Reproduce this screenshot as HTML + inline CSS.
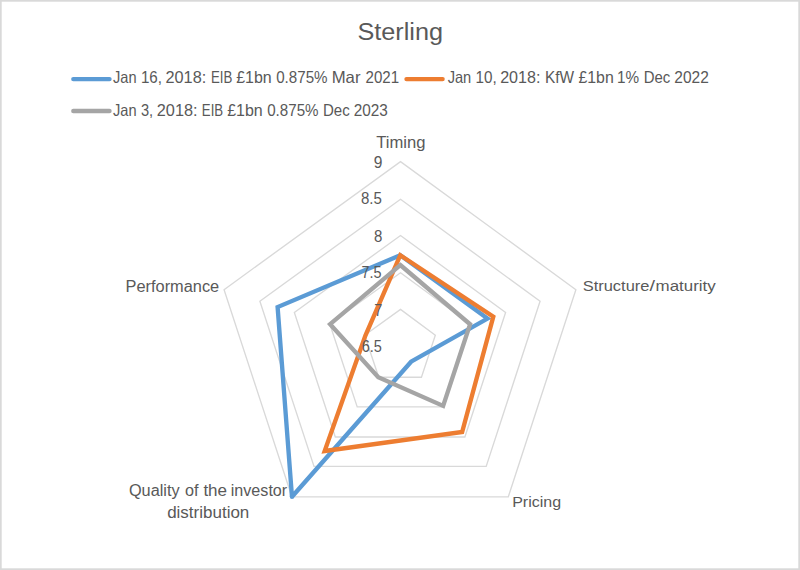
<!DOCTYPE html>
<html><head><meta charset="utf-8"><title>Sterling</title>
<style>
html,body{margin:0;padding:0;background:#fff;}
body{width:800px;height:570px;overflow:hidden;font-family:"Liberation Sans",sans-serif;}
svg{display:block;}
.soft{filter:blur(0.45px);}
.softg{filter:blur(0.7px);}
text{font-family:"Liberation Sans",sans-serif;fill:#595959;}
</style></head><body>
<svg width="800" height="570" viewBox="0 0 800 570">
<rect x="0" y="0" width="800" height="570" fill="#ffffff"/>
<rect x="0.85" y="0.85" width="798.3" height="568.3" fill="none" stroke="#D9D9D9" stroke-width="1.7"/>
<g class="softg" fill="none" stroke="#D9D9D9" stroke-width="1.35">
<polygon points="400.50,309.40 435.31,335.31 421.44,377.24 378.76,377.24 364.64,335.31"/>
<polygon points="400.50,272.75 470.17,323.99 442.98,406.89 357.22,406.89 329.78,323.99"/>
<polygon points="400.50,235.50 505.60,312.48 464.88,437.02 335.32,437.02 294.35,312.48"/>
<polygon points="400.50,199.25 540.07,301.27 486.19,466.35 314.01,466.35 259.88,301.27"/>
<polygon points="400.50,161.60 575.88,289.64 508.32,496.81 291.88,496.81 224.07,289.64"/>
</g>
<g>
<text><tspan x="357.43" y="39.70" font-size="23.50" textLength="85.62" lengthAdjust="spacingAndGlyphs">Sterling</tspan></text>
<text><tspan x="113.00" y="83.20" font-size="16.50" textLength="23.56" lengthAdjust="spacingAndGlyphs">Jan</tspan> <tspan x="140.88" y="83.20" font-size="16.50" textLength="21.05" lengthAdjust="spacingAndGlyphs">16,</tspan> <tspan x="165.50" y="83.20" font-size="16.50" textLength="40.78" lengthAdjust="spacingAndGlyphs">2018:</tspan> <tspan x="210.99" y="83.20" font-size="16.50" textLength="21.41" lengthAdjust="spacingAndGlyphs">EIB</tspan> <tspan x="236.20" y="83.20" font-size="16.50" textLength="35.57" lengthAdjust="spacingAndGlyphs">£1bn</tspan> <tspan x="276.20" y="83.20" font-size="16.50" textLength="51.40" lengthAdjust="spacingAndGlyphs">0.875%</tspan> <tspan x="331.69" y="83.20" font-size="16.50" textLength="28.80" lengthAdjust="spacingAndGlyphs">Mar</tspan> <tspan x="365.50" y="83.20" font-size="16.50" textLength="33.56" lengthAdjust="spacingAndGlyphs">2021</tspan></text>
<text><tspan x="447.65" y="83.20" font-size="16.50" textLength="23.61" lengthAdjust="spacingAndGlyphs">Jan</tspan> <tspan x="475.48" y="83.20" font-size="16.50" textLength="21.16" lengthAdjust="spacingAndGlyphs">10,</tspan> <tspan x="500.15" y="83.20" font-size="16.50" textLength="40.27" lengthAdjust="spacingAndGlyphs">2018:</tspan> <tspan x="544.97" y="83.20" font-size="16.50" textLength="29.14" lengthAdjust="spacingAndGlyphs">KfW</tspan> <tspan x="578.40" y="83.20" font-size="16.50" textLength="35.37" lengthAdjust="spacingAndGlyphs">£1bn</tspan> <tspan x="617.07" y="83.20" font-size="16.50" textLength="22.12" lengthAdjust="spacingAndGlyphs">1%</tspan> <tspan x="643.74" y="83.20" font-size="16.50" textLength="26.58" lengthAdjust="spacingAndGlyphs">Dec</tspan> <tspan x="674.30" y="83.20" font-size="16.50" textLength="34.47" lengthAdjust="spacingAndGlyphs">2022</tspan></text>
<text><tspan x="113.00" y="115.80" font-size="16.50" textLength="23.56" lengthAdjust="spacingAndGlyphs">Jan</tspan> <tspan x="140.90" y="115.80" font-size="16.50" textLength="12.22" lengthAdjust="spacingAndGlyphs">3,</tspan> <tspan x="156.80" y="115.80" font-size="16.50" textLength="40.78" lengthAdjust="spacingAndGlyphs">2018:</tspan> <tspan x="201.85" y="115.80" font-size="16.50" textLength="21.36" lengthAdjust="spacingAndGlyphs">EIB</tspan> <tspan x="227.15" y="115.80" font-size="16.50" textLength="35.62" lengthAdjust="spacingAndGlyphs">£1bn</tspan> <tspan x="267.15" y="115.80" font-size="16.50" textLength="51.40" lengthAdjust="spacingAndGlyphs">0.875%</tspan> <tspan x="322.99" y="115.80" font-size="16.50" textLength="26.74" lengthAdjust="spacingAndGlyphs">Dec</tspan> <tspan x="353.65" y="115.80" font-size="16.50" textLength="34.11" lengthAdjust="spacingAndGlyphs">2023</tspan></text>
<text><tspan x="376.30" y="147.90" font-size="16.20" textLength="49.23" lengthAdjust="spacingAndGlyphs">Timing</tspan></text>
<text><tspan x="582.70" y="291.10" font-size="15.00" textLength="66.78" lengthAdjust="spacingAndGlyphs">Structure</tspan><tspan x="649.50" y="291.10" font-size="15.00" textLength="5.50" lengthAdjust="spacingAndGlyphs">/</tspan><tspan x="655.57" y="291.10" font-size="15.00" textLength="60.16" lengthAdjust="spacingAndGlyphs">maturity</tspan></text>
<text><tspan x="512.17" y="507.40" font-size="15.50" textLength="48.97" lengthAdjust="spacingAndGlyphs">Pricing</tspan></text>
<text><tspan x="128.90" y="495.80" font-size="15.60" textLength="50.74" lengthAdjust="spacingAndGlyphs">Quality</tspan> <tspan x="184.90" y="495.80" font-size="15.60" textLength="13.51" lengthAdjust="spacingAndGlyphs">of</tspan> <tspan x="203.40" y="495.80" font-size="15.60" textLength="23.68" lengthAdjust="spacingAndGlyphs">the</tspan> <tspan x="230.77" y="495.80" font-size="15.60" textLength="56.43" lengthAdjust="spacingAndGlyphs">investor</tspan></text>
<text><tspan x="167.15" y="517.70" font-size="15.60" textLength="82.18" lengthAdjust="spacingAndGlyphs">distribution</tspan></text>
<text><tspan x="125.55" y="291.50" font-size="15.60" textLength="93.65" lengthAdjust="spacingAndGlyphs">Performance</tspan></text>
</g>
<g class="soft" fill="none" stroke-width="4.35" stroke-linejoin="miter" stroke-miterlimit="2.2" stroke-linecap="round">
<polygon points="400.30,255.20 487.51,318.56 411.06,361.71 291.98,496.81 277.61,307.04" stroke="#5B9BD5"/>
<circle cx="291.98" cy="496.81" r="2.17" fill="#5B9BD5" stroke="none"/>
<polygon points="400.30,255.20 493.31,316.68 462.14,432.01 324.65,451.02 365.40,335.56" stroke="#ED7D31"/>
<polygon points="400.30,265.00 470.11,324.22 443.15,405.88 378.26,377.24 330.11,324.09" stroke="#A5A5A5"/>
<line x1="73.3" y1="79.05" x2="109.5" y2="79.05" stroke="#5B9BD5"/>
<line x1="406.5" y1="79.05" x2="442.6" y2="79.05" stroke="#ED7D31"/>
<line x1="73.3" y1="111.0" x2="109.5" y2="111.0" stroke="#A5A5A5"/>
</g>
<g>
<text><tspan x="373.75" y="167.95" font-size="16.00" textLength="8.65" lengthAdjust="spacingAndGlyphs">9</tspan></text>
<text><tspan x="361.00" y="204.45" font-size="16.00" textLength="20.90" lengthAdjust="spacingAndGlyphs">8.5</tspan></text>
<text><tspan x="374.05" y="241.80" font-size="16.00" textLength="8.35" lengthAdjust="spacingAndGlyphs">8</tspan></text>
<text><tspan x="361.50" y="278.45" font-size="16.00" textLength="20.01" lengthAdjust="spacingAndGlyphs">7.5</tspan></text>
<text><tspan x="374.30" y="315.80" font-size="16.00" textLength="8.11" lengthAdjust="spacingAndGlyphs">7</tspan></text>
<text><tspan x="361.75" y="352.45" font-size="16.00" textLength="20.16" lengthAdjust="spacingAndGlyphs">6.5</tspan></text>
</g>
</svg>
</body></html>
